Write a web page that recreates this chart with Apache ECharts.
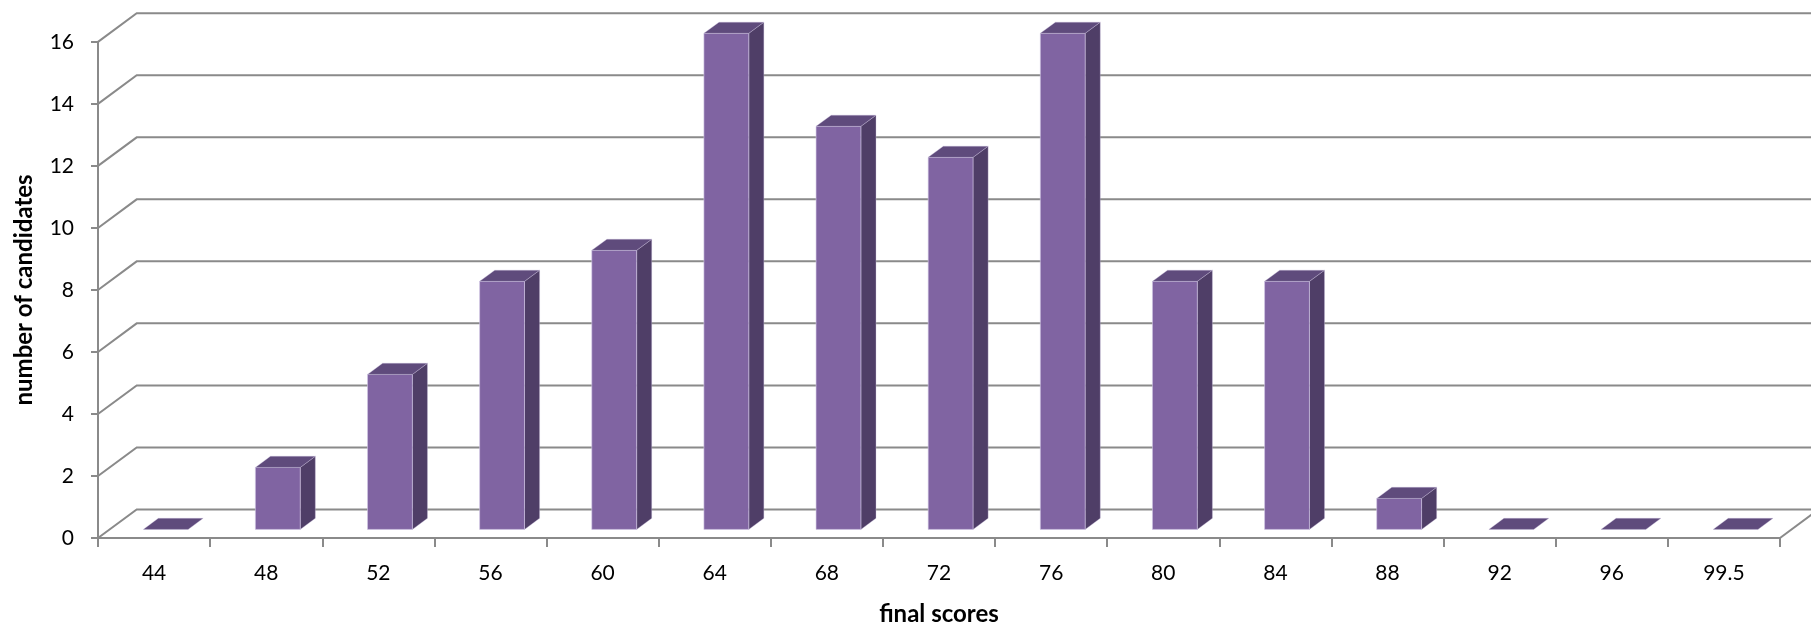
<!DOCTYPE html>
<html>
<head>
<meta charset="utf-8">
<script src="https://cdn.jsdelivr.net/npm/echarts@6/dist/echarts.min.js"></script>
<style>
html,body{margin:0;padding:0;background:#fff;}
#chart{width:1811px;height:631px;}
</style>
</head>
<body>
<div id="chart"></div>
<script>
// ---- data ----
const categories = ['44','48','52','56','60','64','68','72','76','80','84','88','92','96','99.5'];
const counts = [0, 2, 5, 8, 9, 16, 13, 12, 16, 8, 8, 1, 0, 0, 0];
const yMin = 0, yMax = 16, yStep = 2;
const yTicks = [0, 2, 4, 6, 8, 10, 12, 14, 16];

// ---- style / projection ----
const DEPTH_DX = 38.7, DEPTH_DY = -28.6;   // full depth of the 3D box
const BAR_Z0 = 0.30, BAR_Z1 = 0.69;        // bar front/back depth fractions
const BAR_W = 0.40;                        // bar width as fraction of category
const GRID_COLOR = '#8a8a8a';
const FRONT = '#8064A2', TOP = '#5F4B7C', SIDE = '#4F3E67';
const FONT = 'Lato';

const chart = echarts.init(document.getElementById('chart'));

function wallItem(params, api) {
  const cs = params.coordSys;
  const v = api.value(0);
  const p = api.coord([0, v]);
  const x0 = cs.x, x1 = cs.x + cs.width;
  const y = p[1];
  return {
    type: 'polyline',
    shape: { points: [[x0, y], [x0 + DEPTH_DX, y + DEPTH_DY], [x1 + DEPTH_DX, y + DEPTH_DY]] },
    style: { stroke: GRID_COLOR, lineWidth: 2, fill: null },
    silent: true
  };
}

function floorRightItem(params, api) {
  const cs = params.coordSys;
  const p = api.coord([0, 0]);
  const x1 = cs.x + cs.width;
  return {
    type: 'line',
    shape: { x1: x1, y1: p[1], x2: x1 + DEPTH_DX, y2: p[1] + DEPTH_DY },
    style: { stroke: GRID_COLOR, lineWidth: 2 },
    silent: true
  };
}

function barItem(params, api) {
  const idx = api.value(0);
  const val = api.value(1);
  const base = api.coord([idx, 0]);
  const top = api.coord([idx, val]);
  const bw = api.size([1, 0])[0] * BAR_W;
  const fx0 = base[0] - bw / 2 + BAR_Z0 * DEPTH_DX;
  const fx1 = base[0] + bw / 2 + BAR_Z0 * DEPTH_DX;
  const fyb = base[1] + BAR_Z0 * DEPTH_DY;
  const fyt = top[1] + BAR_Z0 * DEPTH_DY;
  const ddx = (BAR_Z1 - BAR_Z0) * DEPTH_DX;
  const ddy = (BAR_Z1 - BAR_Z0) * DEPTH_DY;
  const children = [];
  if (val > 0) {
    children.push({
      type: 'polygon',
      shape: { points: [[fx1, fyb], [fx1, fyt], [fx1 + ddx, fyt + ddy], [fx1 + ddx, fyb + ddy]] },
      style: { fill: SIDE, stroke: 'rgba(200,190,220,0.35)', lineWidth: 1 }
    });
    children.push({
      type: 'rect',
      shape: { x: fx0, y: fyt, width: fx1 - fx0, height: fyb - fyt },
      style: { fill: FRONT, stroke: 'rgba(210,200,230,0.6)', lineWidth: 1 }
    });
  }
  children.push({
    type: 'polygon',
    shape: { points: [[fx0, fyt], [fx1, fyt], [fx1 + ddx, fyt + ddy], [fx0 + ddx, fyt + ddy]] },
    style: { fill: TOP, stroke: 'rgba(200,190,220,0.35)', lineWidth: 1 }
  });
  return { type: 'group', children: children };
}

const option = {
  animation: false,
  backgroundColor: '#ffffff',
  textStyle: { fontFamily: FONT },
  grid: { left: 98, right: 31, top: 41.9, bottom: 86.7, containLabel: false },
  xAxis: {
    type: 'category',
    data: categories,
    boundaryGap: true,
    name: 'final scores',
    nameLocation: 'middle',
    nameGap: 64,
    nameTextStyle: { fontFamily: FONT, fontSize: 24, fontWeight: 'bold', color: '#000' },
    axisLine: { show: true, lineStyle: { color: GRID_COLOR, width: 2 } },
    axisTick: { show: true, alignWithLabel: false, length: 9, lineStyle: { color: GRID_COLOR, width: 2 } },
    axisLabel: { fontFamily: FONT, fontSize: 21, color: '#000', margin: 25, interval: 0 },
    splitLine: { show: false }
  },
  yAxis: {
    type: 'value',
    min: yMin, max: yMax, interval: yStep,
    name: 'number of candidates',
    nameLocation: 'middle',
    nameGap: 62,
    nameRotate: 90,
    nameTextStyle: { fontFamily: FONT, fontSize: 24, fontWeight: 'bold', color: '#000' },
    axisLine: { show: true, lineStyle: { color: GRID_COLOR, width: 2 } },
    axisTick: { show: true, length: 7, lineStyle: { color: GRID_COLOR, width: 2 } },
    axisLabel: { fontFamily: FONT, fontSize: 21, color: '#000', margin: 24 },
    splitLine: { show: false }
  },
  series: [
    {
      type: 'custom',
      name: 'walls',
      coordinateSystem: 'cartesian2d',
      renderItem: wallItem,
      data: yTicks.map(v => [v]),
      encode: { y: 0 },
      z: 1, silent: true
    },
    {
      type: 'custom',
      name: 'floor',
      coordinateSystem: 'cartesian2d',
      renderItem: floorRightItem,
      data: [[0]],
      z: 1, silent: true
    },
    {
      type: 'custom',
      name: 'candidates',
      coordinateSystem: 'cartesian2d',
      renderItem: barItem,
      data: counts.map((v, i) => [i, v]),
      encode: { x: 0, y: 1 },
      z: 3
    }
  ]
};
chart.setOption(option);
</script>
</body>
</html>
